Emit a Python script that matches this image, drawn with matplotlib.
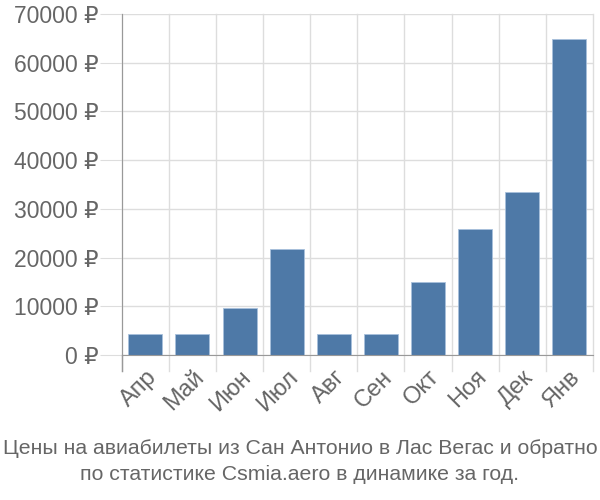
import matplotlib
matplotlib.use("Agg")
import matplotlib.pyplot as plt
import numpy as np

months = ["Апр", "Май", "Июн", "Июл", "Авг", "Сен", "Окт", "Ноя", "Дек", "Янв"]
prices = [4300, 4300, 9700, 21700, 4300, 4300, 14900, 25900, 33400, 64800]
yticks = [0, 10000, 20000, 30000, 40000, 50000, 60000, 70000]
title = "Цены на авиабилеты из Сан Антонио в Лас Вегас и обратно\nпо статистике Csmia.aero в динамике за год."

plt.rcParams['font.family'] = ['Liberation Sans', 'DejaVu Sans']

fig = plt.figure(figsize=(6, 5), dpi=100)
ax = fig.add_axes([0.203, 0.29, 0.785, 0.682])

x = np.arange(len(months))
ax.bar(x, prices, width=0.72, color="#4e79a7", edgecolor="#a8c0dc", linewidth=0.6, zorder=3)

ax.set_xlim(-0.5, len(months) - 0.5)
ax.set_ylim(0, 70000)
ax.set_yticks(yticks)
ax.set_yticklabels([f"{v} ₽" for v in yticks], fontsize=16.5, color="#666666")
ax.set_xticks(x)
ax.set_xticklabels(months, rotation=45, ha="right", rotation_mode="anchor", fontsize=17, color="#666666")
ax.tick_params(axis="y", length=16, color="#dddddd", pad=1)
ax.tick_params(axis="x", length=0, pad=8)

# vertical grid lines at category boundaries, extending below the axis
for b in np.arange(-0.5, len(months), 1.0):
    ax.plot([b, b], [-3300, 70000], color="#dddddd", linewidth=1, zorder=1, clip_on=False)
ax.yaxis.grid(True, color="#dddddd", linewidth=1, zorder=1)

for s in ["top", "right"]:
    ax.spines[s].set_visible(False)
ax.spines["left"].set_color("#999999")
ax.spines["bottom"].set_color("#999999")
ax.spines["left"].set_zorder(4)
ax.spines["bottom"].set_zorder(4)
ax.plot([-0.5, -0.5], [-3300, 0], color="#999999", linewidth=1, clip_on=False, zorder=4)

fig.text(0.5, 0.077, title, ha="center", va="center", fontsize=15.3, color="#666666",
         linespacing=1.45)

fig.savefig("out.png", dpi=100)
